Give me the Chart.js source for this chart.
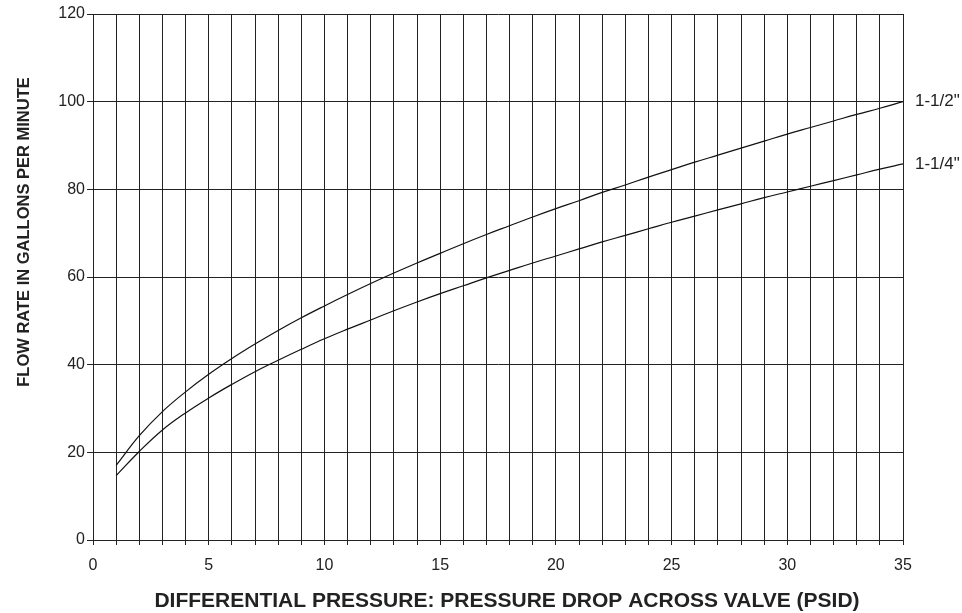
<!DOCTYPE html>
<html>
<head>
<meta charset="utf-8">
<script src="https://cdn.jsdelivr.net/npm/chart.js@4"></script>
<style>
  html, body { margin: 0; padding: 0; background: #fff; }
  #wrap { width: 962px; height: 613px; }
</style>
</head>
<body>
<div id="wrap"><canvas id="flowchart"></canvas></div>
<script>
// pressure drop (psid)
const pressure = [1,2,3,4,5,6,7,8,9,10,11,12,13,14,15,16,17,18,19,20,21,22,23,24,25,26,27,28,29,30,31,32,33,34,35];
// flow rate (gpm)
const flow112 = [17,23.8,29.3,33.8,37.8,41.4,44.7,47.8,50.7,53.4,56,58.5,60.9,63.2,65.4,67.6,69.7,71.7,73.7,75.6,77.4,79.3,81,82.8,84.5,86.2,87.8,89.4,91,92.6,94.1,95.6,97.1,98.5,100];
const flow114 = [14.7,20.2,25.1,29,32.4,35.5,38.4,41,43.5,45.9,48.1,50.2,52.3,54.3,56.2,58,59.8,61.5,63.2,64.8,66.4,68,69.5,71,72.5,73.9,75.3,76.7,78.1,79.4,80.7,82,83.3,84.6,85.8];
const seriesNames = ['1-1/2"', '1-1/4"'];
const yTitle = 'FLOW RATE IN GALLONS PER MINUTE';
const xTitle = 'DIFFERENTIAL PRESSURE: PRESSURE DROP ACROSS VALVE (PSID)';

const toPts = arr => arr.map((v, i) => ({x: pressure[i], y: v}));
const FONT = '"Liberation Sans", Arial, sans-serif';

// series names at the right end + axis titles
const labelsPlugin = {
    id: 'labels',
    afterDraw(chart) {
        const ctx = chart.ctx;
        const xs = chart.scales.x, ys = chart.scales.y;
        ctx.save();
        ctx.fillStyle = '#222';
        ctx.font = '17px ' + FONT;
        ctx.textBaseline = 'middle';
        ctx.textAlign = 'left';
        chart.data.datasets.forEach(ds => {
            const last = ds.data[ds.data.length - 1];
            ctx.fillText(ds.label, xs.getPixelForValue(last.x) + 12, ys.getPixelForValue(last.y));
        });
        ctx.font = 'bold 21px ' + FONT;
        ctx.textAlign = 'center';
        ctx.fillText(xTitle, 507, 601);
        ctx.translate(24, 232);
        ctx.rotate(-Math.PI / 2);
        ctx.font = 'bold 16.5px ' + FONT;
        ctx.fillText(yTitle, 0, 0);
        ctx.restore();
    }
};

new Chart(document.getElementById('flowchart'), {
    type: 'line',
    data: {
        datasets: [{
            label: seriesNames[0],
            data: toPts(flow112),
            borderColor: '#111',
            borderWidth: 1.2,
            pointRadius: 0,
            tension: 0.4,
            fill: false
        }, {
            label: seriesNames[1],
            data: toPts(flow114),
            borderColor: '#111',
            borderWidth: 1.2,
            pointRadius: 0,
            tension: 0.4,
            fill: false
        }]
    },
    options: {
        responsive: true,
        maintainAspectRatio: false,
        animation: false,
        layout: { padding: { top: 14, right: 59, left: 0, bottom: 0 } },
        plugins: {
            legend: { display: false },
            tooltip: { enabled: false }
        },
        scales: {
            x: {
                type: 'linear',
                min: 0,
                max: 35,
                afterFit: s => { s.height = 73; },
                grid: { color: '#222', lineWidth: 1, tickLength: 5, drawTicks: true },
                border: { color: '#222' },
                ticks: {
                    stepSize: 1,
                    autoSkip: false,
                    maxRotation: 0,
                    color: '#222',
                    padding: 11,
                    font: { family: FONT, size: 16 },
                    callback: v => (v % 5 === 0 ? String(v) : '')
                }
            },
            y: {
                min: 0,
                max: 120,
                afterFit: s => { s.width = 93; },
                grid: { color: '#222', lineWidth: 1, tickLength: 6 },
                border: { color: '#222' },
                ticks: {
                    stepSize: 20,
                    color: '#222',
                    padding: 2,
                    font: { family: FONT, size: 16 }
                }
            }
        }
    },
    plugins: [labelsPlugin]
});
</script>
</body>
</html>
